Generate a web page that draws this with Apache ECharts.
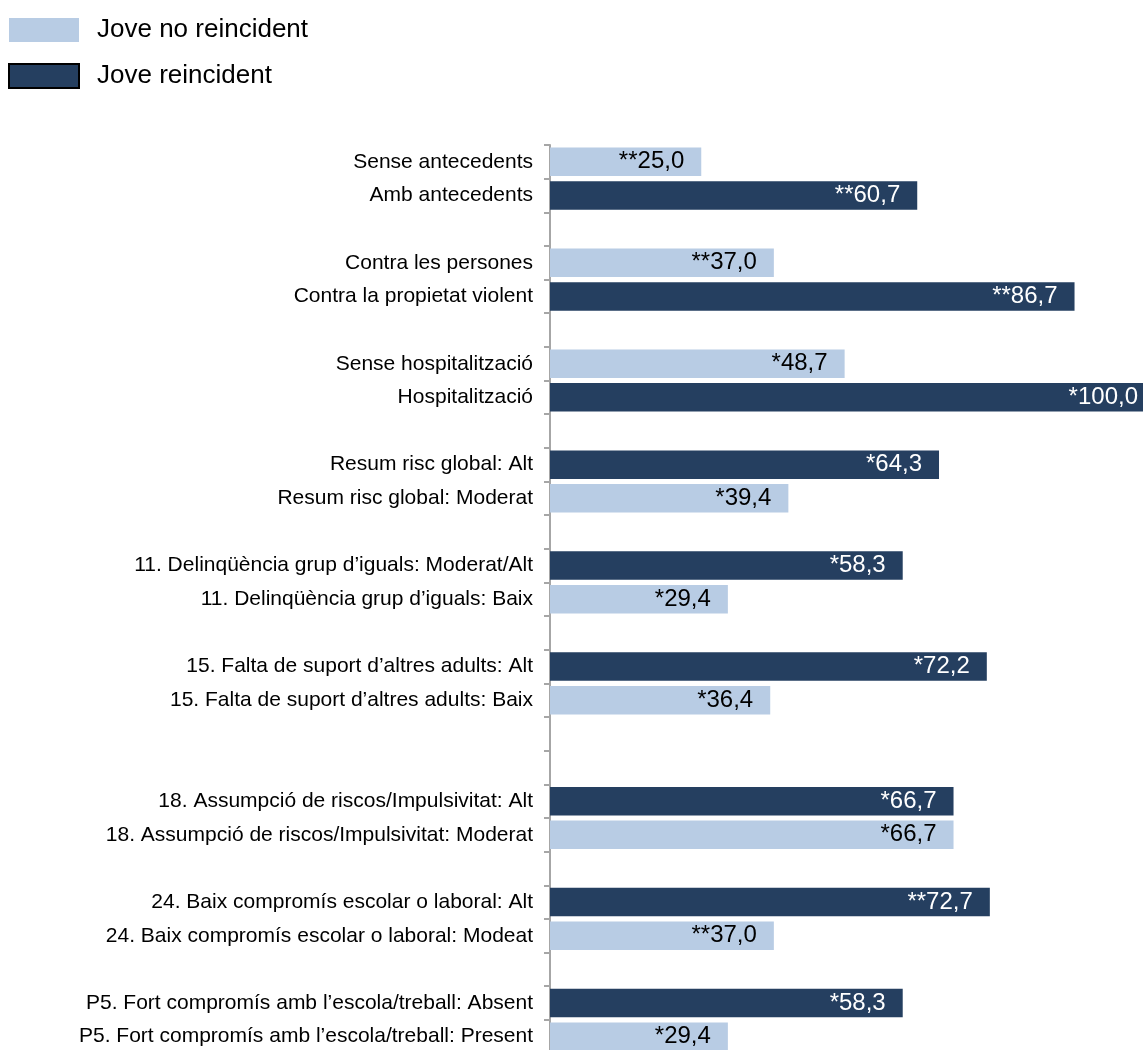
<!DOCTYPE html>
<html>
<head>
<meta charset="utf-8">
<script src="https://cdn.jsdelivr.net/npm/echarts@6/dist/echarts.min.js"></script>
<style>
  html, body { margin: 0; padding: 0; background: #fff; }
  #chart { width: 1143px; height: 1050px; }
</style>
</head>
<body>
<div id="chart"></div>
<script>
// Row labels, top to bottom; empty strings are spacer rows between groups
const categories = [
  'Sense antecedents', 'Amb antecedents', '',
  'Contra les persones', 'Contra la propietat violent', '',
  'Sense hospitalització', 'Hospitalització', '',
  'Resum risc global: Alt', 'Resum risc global: Moderat', '',
  '11. Delinqüència grup d’iguals: Moderat/Alt', '11. Delinqüència grup d’iguals: Baix', '',
  '15. Falta de suport d’altres adults: Alt', '15. Falta de suport d’altres adults: Baix', '', '',
  '18. Assumpció de riscos/Impulsivitat: Alt', '18. Assumpció de riscos/Impulsivitat: Moderat', '',
  '24. Baix compromís escolar o laboral: Alt', '24. Baix compromís escolar o laboral: Modeat', '',
  'P5. Fort compromís amb l’escola/treball: Absent', 'P5. Fort compromís amb l’escola/treball: Present'
];

// Percentages per row (null where the row belongs to the other group)
const noReincident = [
  25.0, null, null,
  37.0, null, null,
  48.7, null, null,
  null, 39.4, null,
  null, 29.4, null,
  null, 36.4, null, null,
  null, 66.7, null,
  null, 37.0, null,
  null, 29.4
];
const reincident = [
  null, 60.7, null,
  null, 86.7, null,
  null, 100.0, null,
  64.3, null, null,
  58.3, null, null,
  72.2, null, null, null,
  66.7, null, null,
  72.7, null, null,
  58.3, null
];

// Significance markers shown in front of each value
const significance = [
  '**', '**', '',
  '**', '**', '',
  '*', '*', '',
  '*', '*', '',
  '*', '*', '',
  '*', '*', '', '',
  '*', '*', '',
  '**', '**', '',
  '*', '*'
];

const seriesNames = ['Jove no reincident', 'Jove reincident'];

const LIGHT = '#b8cce4';
const DARK = '#253f60';
const FONT = '"Liberation Sans", Arial, Helvetica, sans-serif';

function valueLabel(p) {
  return significance[p.dataIndex] + p.value.toFixed(1).replace('.', ',');
}

const chart = echarts.init(document.getElementById('chart'), null, { renderer: 'canvas' });

chart.setOption({
  animation: false,
  backgroundColor: '#ffffff',
  textStyle: { fontFamily: FONT },
  legend: {
    orient: 'vertical',
    left: 8,
    top: 17,
    padding: 0,
    itemWidth: 70,
    itemHeight: 24,
    itemGap: 20,
    icon: 'rect',
    selectedMode: false,
    textStyle: { fontSize: 26, color: '#000', fontFamily: FONT, padding: [0, 0, 0, 13] },
    data: [
      { name: seriesNames[0], itemStyle: { color: LIGHT, borderWidth: 0 } },
      { name: seriesNames[1], itemStyle: { color: DARK, borderColor: '#000', borderWidth: 2 } }
    ]
  },
  grid: {
    left: 550,
    top: 145,
    width: 605,
    height: 908.5,
    containLabel: false,
    outerBoundsMode: 'none'
  },
  xAxis: {
    type: 'value',
    min: 0,
    max: 100,
    show: false,
    splitLine: { show: false }
  },
  yAxis: {
    type: 'category',
    inverse: true,
    data: categories,
    axisLine: { show: true, lineStyle: { color: '#a6a6a6', width: 2 } },
    axisTick: { show: true, length: 6, lineStyle: { color: '#a6a6a6', width: 2 } },
    axisLabel: { color: '#000', fontSize: 21, fontFamily: FONT, margin: 17, padding: [3, 0, 0, 0] },
    splitLine: { show: false }
  },
  series: [
    {
      name: seriesNames[0],
      type: 'bar',
      data: noReincident,
      barWidth: 28.5,
      barGap: '-100%',
      itemStyle: { color: LIGHT },
      label: {
        show: true,
        position: 'insideRight',
        distance: 17,
        color: '#000',
        fontSize: 24,
        fontFamily: FONT,
        padding: [3, 0, 0, 0],
        formatter: valueLabel
      }
    },
    {
      name: seriesNames[1],
      type: 'bar',
      data: reincident,
      barWidth: 28.5,
      barGap: '-100%',
      itemStyle: { color: DARK },
      label: {
        show: true,
        position: 'insideRight',
        distance: 17,
        color: '#fff',
        fontSize: 24,
        fontFamily: FONT,
        padding: [3, 0, 0, 0],
        formatter: valueLabel
      }
    }
  ]
});
</script>
</body>
</html>
